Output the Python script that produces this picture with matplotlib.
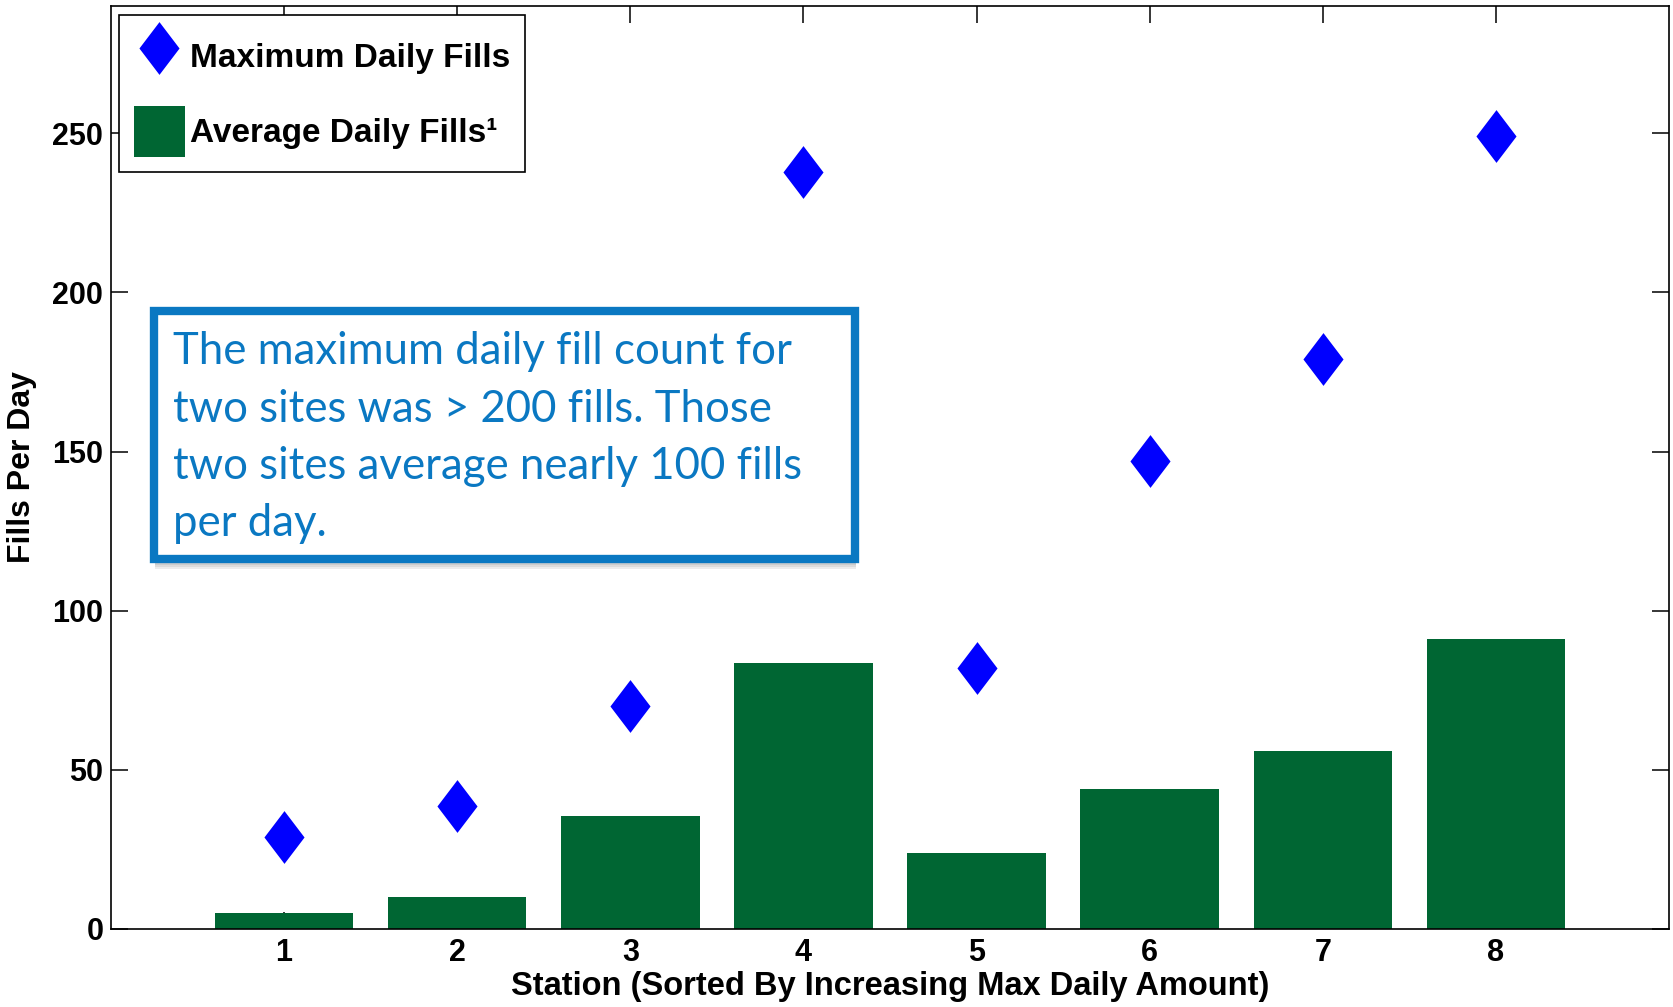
import matplotlib

matplotlib.use("Agg")
import matplotlib.pyplot as plt
from matplotlib.patches import Rectangle

plt.rcParams["font.family"] = ["Liberation Sans", "DejaVu Sans"]
plt.rcParams["font.weight"] = "bold"

stations = [1, 2, 3, 4, 5, 6, 7, 8]
avg_fills = [5, 10, 35.5, 83.5, 24, 44, 56, 91]
max_fills = [29, 38.5, 70, 238, 82, 147, 179, 249]
y_ticks = [0, 50, 100, 150, 200, 250]

note_lines = [
    "The maximum daily fill count for",
    "two sites was > 200 fills. Those",
    "two sites average nearly 100 fills",
    "per day.",
]

green = "#006633"
note_blue = "#0A78C2"

# tall diamond, a bit narrower than it is high
diamond = [(0, 1), (0.76, 0), (0, -1), (-0.76, 0), (0, 1)]

fig = plt.figure(figsize=(16.74, 10.07), dpi=100)
ax = fig.add_axes([111 / 1674, 1 - 929 / 1007, 1558 / 1674, 923 / 1007])

bars = ax.bar(stations, avg_fills, width=0.8, color=green, zorder=2,
              label="Average Daily Fills\u00b9")
pts, = ax.plot(stations, max_fills, linestyle="none", marker=diamond,
               markersize=38, markeredgewidth=0, color="#0000FF", zorder=3,
               label="Maximum Daily Fills")

ax.set_xlim(0, 9)
ax.set_ylim(0, 290)
ax.set_xticks(stations)
ax.set_yticks(y_ticks)
ax.tick_params(direction="in", length=12, width=1.1, labelsize=22,
               top=True, right=True)
ax.tick_params(axis="x", pad=6.5)
ax.tick_params(axis="y", pad=5.5)
for sp in ax.spines.values():
    sp.set_linewidth(1.2)

ax.set_xlabel("Station (Sorted By Increasing Max Daily Amount)",
              fontsize=23.5, fontweight="bold")
ax.set_ylabel("Fills Per Day", fontsize=23, fontweight="bold")
ax.xaxis.set_label_coords(0.5, -0.046)
ax.yaxis.set_label_coords(-0.0475, 0.5)

leg = ax.legend(handles=[pts, bars], loc="upper left",
                bbox_to_anchor=(0.005, 0.99), borderaxespad=0,
                prop={"size": 24, "weight": "bold"},
                handlelength=1.53, handleheight=2.0, handletextpad=0.15,
                labelspacing=0.72, borderpad=0.45, fancybox=False,
                framealpha=1, edgecolor="black")
leg.get_frame().set_linewidth(1.2)

# note box with a soft drop shadow underneath
bx0, by0, bw, bh = 154 / 1674, 1 - 559 / 1007, 701 / 1674, 248 / 1007
for off in [2, 4, 6, 8, 10]:
    fig.patches.append(Rectangle((bx0 + 1 / 1674, by0 - off / 1007),
                                 bw, bh, transform=fig.transFigure,
                                 facecolor="#555555", edgecolor="none",
                                 alpha=0.11, zorder=4))
fig.patches.append(Rectangle((bx0, by0), bw, bh, transform=fig.transFigure,
                             facecolor="white", edgecolor=note_blue,
                             linewidth=6, zorder=5))

for i, line in enumerate(note_lines):
    fig.text(173 / 1674, 1 - (364 + 57.5 * i) / 1007, line,
             family=["Lato", "DejaVu Sans"], fontweight="normal",
             fontsize=31.5, color=note_blue, va="baseline", ha="left",
             zorder=6)

fig.savefig("out.png", dpi=100)
